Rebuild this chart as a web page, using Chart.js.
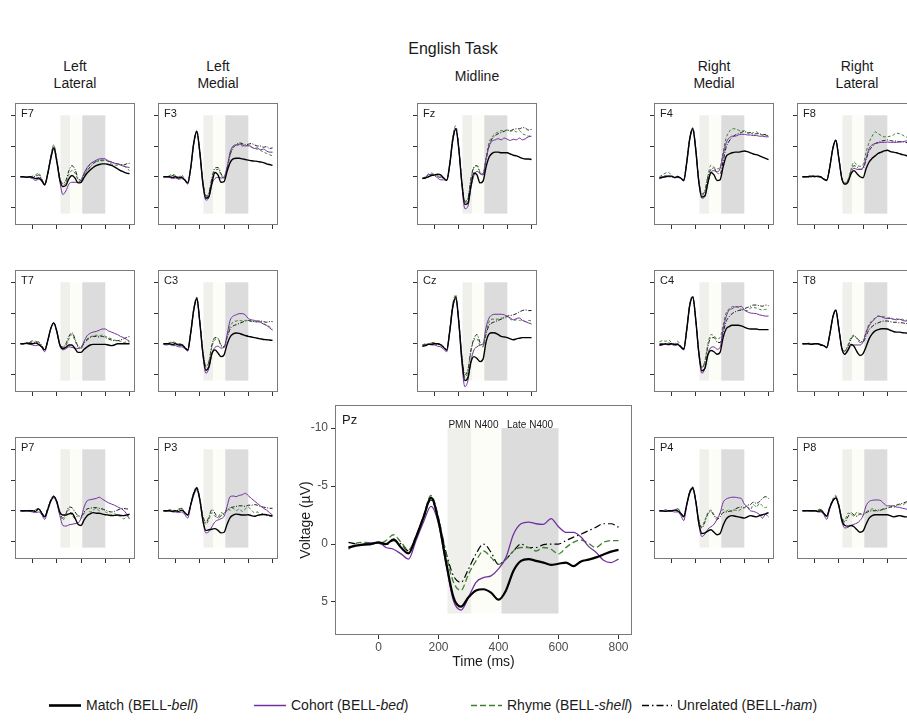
<!DOCTYPE html>
<html>
<head>
<meta charset="utf-8">
<script src="https://cdn.jsdelivr.net/npm/chart.js@4.4.1/dist/chart.umd.min.js"></script>
<style>
  body { margin: 0; width: 907px; height: 721px; overflow: hidden; position: relative; background: #fff;
         font-family: "Liberation Sans", Arial, sans-serif; color: #1a1a1a; }
  canvas { position: absolute; }
  .hd { position: absolute; transform: translateX(-50%); text-align: center; font-size: 14px; line-height: 17px; white-space: nowrap; }
  .lg { position: absolute; top: 696px; height: 18px; font-size: 14px; line-height: 18px; white-space: nowrap; }
  .lg svg { position: absolute; left: 0; top: 0; }
  .lg span { position: absolute; top: 0; }
</style>
</head>
<body>
<div class="hd" style="left:453px; top:39px; font-size:16px; line-height:20px;">English Task</div>
<div class="hd" style="left:75px; top:58px;">Left<br>Lateral</div>
<div class="hd" style="left:218px; top:58px;">Left<br>Medial</div>
<div class="hd" style="left:477px; top:68px;">Midline</div>
<div class="hd" style="left:714px; top:58px;">Right<br>Medial</div>
<div class="hd" style="left:857px; top:58px;">Right<br>Lateral</div>
<div id="legend"></div>

<script>
// time axis (ms) and tick values
const times = [-100, -75, -50, -25, 0, 25, 50, 75, 100, 125, 150, 175, 200, 225, 250, 275, 300,
               325, 350, 375, 400, 425, 450, 475, 500, 525, 550, 575, 600, 625, 650, 675, 700, 725, 750, 775, 800];
const xTickVals = [0, 200, 400, 600, 800];
const yTickVals = [-10, -5, 0, 5];

// analysis windows (ms edges) and their vertical extent (uV)
const windowEdges = [230, 310, 410, 600];
const windowNames = ['PMN', 'N400', 'Late N400'];
const windowSpan = [-10, 6];

const condNames = ['Match', 'Cohort', 'Rhyme', 'Unrelated'];
const primeWords = ['bell', 'bed', 'shell', 'ham'];

// each electrode: [match, cohort, rhyme, unrelated] in uV
const F7 = [
  [0,0,0.1,0,0.1,0.3,0.2,0.6,1.3, -0.5,-3.0,-4.7,-2.5,0.5,1.6,1.4,0.3, -0.2,0.2,1.0,0.9,0.1,-0.6,-1.1,-1.5,-1.8,-2.0,-2.1,-2.1, -2.0,-1.85,-1.6,-1.3,-1.0,-0.8,-0.6,-0.5],
  [0,0,0,0.1,0.3,0.6,0.4,0.7,1.4, -0.4,-2.8,-4.6,-2.4,0.8,2.9,2.3,1.2, 0.9,0.9,0.9,0.5,-0.6,-1.5,-2.1,-2.4,-2.7,-2.9,-2.95,-2.9, -2.6,-2.4,-2.2,-2.1,-1.9,-1.7,-1.6,-1.5],
  [0,0,0,0,-0.1,-0.3,-0.6,0.3,1.2, -0.6,-3.3,-5.2,-2.8,0.3,1.4,1.0,-0.4, -1.0,-0.6,0.5,0.9,-0.3,-1.3,-2.0,-2.4,-2.5,-2.55,-2.6,-2.7, -2.4,-2.1,-1.9,-1.85,-2.0,-1.9,-1.4,-1.0],
  [0,0,0.1,0,0,-0.1,-0.3,0.4,1.2, -0.5,-3.2,-5.0,-2.7,0.2,1.1,0.6,-1.0, -1.8,-1.2,0.2,0.6,-0.4,-1.0,-1.6,-2.1,-2.5,-2.7,-2.7,-2.7, -2.5,-2.4,-2.2,-2.1,-2.0,-1.9,-2.1,-2.2]
];
const F3 = [
  [0,0,0,0.1,0,0.2,0.1,0.5,1.0, -1.5,-5.5,-7.4,-4.0,1.0,3.5,3.2,1.0, -0.7,-0.3,0.9,0.8,-0.9,-2.3,-2.9,-3.0,-3.0,-2.9,-2.8,-2.7, -2.6,-2.55,-2.5,-2.4,-2.3,-2.1,-2.0,-1.85],
  [0,0,0.1,0.3,0.2,0.4,0.3,0.6,1.2, -1.3,-5.3,-7.2,-3.8,1.3,3.8,3.4,1.2, 0.3,0.1,0.2,0.0,-1.5,-4.0,-5.0,-5.2,-5.3,-5.2,-5.0,-5.1, -4.9,-4.6,-4.7,-4.4,-4.5,-4.2,-4.0,-4.0],
  [0,0,-0.2,-0.4,-0.2,0,-0.3,0.4,1.0, -1.6,-5.6,-7.5,-4.0,0.8,3.3,2.8,0.5, -0.9,-1.2,-0.3,0.3,-1.3,-3.5,-4.8,-5.0,-5.2,-5.0,-5.1,-5.0, -4.8,-4.6,-4.5,-4.3,-4.0,-3.8,-3.6,-3.4],
  [0,0,0,-0.2,0,0.1,0,0.5,1.0, -1.4,-5.4,-7.4,-4.0,0.8,3.1,2.6,0.2, -1.4,-1.5,-0.5,0.3,-1.4,-3.6,-4.7,-5.2,-5.5,-5.4,-5.2,-5.3, -5.4,-5.2,-5.0,-5.0,-4.8,-4.9,-4.6,-4.7]
];
const Fz = [
  [0.3,0.2,0,-0.2,-0.3,-0.4,-0.3,0.2,0.6, -2.0,-6.0,-7.8,-4.5,1.0,4.5,4.3,1.5, -0.6,-0.3,1.0,0.7,-1.6,-3.2,-3.8,-4.0,-4.0,-3.9,-3.9,-3.9, -3.7,-3.5,-3.4,-3.2,-3.0,-2.9,-2.9,-2.8],
  [0.3,0.1,-0.3,-0.4,-0.2,0.2,0.5,0.5,0.6, -1.8,-5.8,-7.7,-4.5,1.3,5.2,4.8,1.8, -0.2,-0.9,-0.5,-0.3,-3.0,-5.0,-5.8,-6.0,-6.2,-6.0,-6.3,-6.1, -5.9,-6.1,-6.0,-6.3,-6.0,-6.2,-6.5,-6.6],
  [0.2,0,-0.5,-0.6,-0.4,-0.2,0,0.2,0.5, -2.2,-6.5,-8.3,-4.8,0.8,4.2,3.8,0.5, -1.5,-1.8,-0.8,-0.5,-3.2,-5.6,-6.5,-7.0,-7.3,-7.5,-7.5,-7.6, -7.4,-7.5,-7.3,-7.5,-7.0,-6.8,-6.6,-6.8],
  [0.2,0.1,-0.3,-0.3,-0.2,0,0.1,0.3,0.5, -2.0,-6.2,-8.0,-4.6,0.8,4.0,3.5,0.3, -1.6,-1.8,-0.6,-0.3,-2.8,-5.0,-6.2,-6.7,-7.0,-7.2,-7.4,-7.6, -7.5,-7.7,-7.8,-7.8,-8.0,-7.9,-7.6,-7.7]
];
const F4 = [
  [0.2,0.1,0,-0.1,-0.1,0.1,0,0.2,0.6, -2.3,-6.2,-7.8,-4.3,0.9,3.3,3.1,0.9, -0.7,-0.3,0.6,0.5,-1.6,-3.3,-3.7,-3.9,-4.0,-4.0,-4.1,-4.2, -4.1,-3.9,-3.7,-3.6,-3.4,-3.2,-3.0,-2.8],
  [0.3,0.1,-0.2,0,0,0.2,0.1,0.3,0.7, -2.2,-6.0,-7.6,-4.2,1.0,3.5,3.2,1.0, -0.7,-1.0,-0.8,-1.3,-3.5,-5.5,-6.3,-6.6,-6.6,-6.8,-6.9,-6.9, -6.8,-6.8,-6.7,-6.7,-6.6,-6.6,-6.5,-6.5],
  [0,-0.3,-0.6,-0.7,-0.2,0.1,-0.1,0.2,0.5, -2.6,-6.4,-8.0,-4.5,0.7,3.0,2.4,-0.2, -1.9,-1.5,-1.3,-1.5,-4.0,-6.3,-7.3,-7.8,-7.8,-7.6,-7.4,-7.5, -7.2,-7.0,-7.2,-7.3,-7.0,-6.8,-6.7,-6.7],
  [0.2,0,0,-0.1,0,0.1,0.1,0.2,0.5, -2.4,-6.2,-7.9,-4.5,0.6,2.8,2.3,0, -1.2,-1.4,-0.6,-0.5,-2.5,-4.8,-5.8,-6.4,-6.8,-7.0,-7.2,-7.4, -7.1,-7.2,-6.9,-7.0,-7.0,-6.8,-6.9,-6.6]
];
const F8 = [
  [0,0,0,-0.1,0,-0.1,0,0.4,0.6, -1.5,-4.5,-5.9,-3.0,0.3,1.2,0.9,-0.4, -1.0,-0.5,0,0.15,-1.3,-2.4,-3.0,-3.4,-3.8,-4.0,-4.2,-4.3, -4.1,-4.0,-3.9,-3.75,-3.6,-3.5,-3.3,-3.2],
  [0,0,0,0,-0.1,0,0,0.4,0.6, -1.5,-4.6,-6.0,-3.0,0.3,1.2,0.8,-0.6, -1.4,-1.2,-1.2,-1.5,-3.0,-4.6,-5.2,-5.4,-5.5,-5.6,-5.6,-5.65, -5.6,-5.6,-5.6,-5.65,-5.7,-5.8,-5.9,-6.0],
  [0,0,-0.1,-0.2,-0.1,0,0.1,0.3,0.5, -1.6,-4.7,-6.0,-3.1,0.2,1.0,0.5,-1.2, -2.4,-1.9,-1.7,-2.0,-4.0,-5.6,-6.6,-7.3,-7.0,-6.7,-6.5,-6.5, -6.6,-6.8,-7.1,-7.0,-6.8,-6.5,-6.4,-6.3],
  [0,0,0,0,-0.1,0,0,0.3,0.5, -1.5,-4.6,-5.9,-3.0,0.2,1.0,0.6,-0.9, -1.8,-1.6,-1.2,-1.3,-2.8,-4.2,-4.9,-5.4,-5.6,-5.8,-5.9,-6.0, -5.9,-5.8,-5.8,-5.7,-5.7,-5.6,-5.5,-5.5]
];
const T7 = [
  [0,0,-0.1,0,0,-0.1,0.1,0.5,1.0, -0.5,-2.5,-3.4,-2.0,0.2,0.8,0.6,0.2, 0.2,0.8,1.4,1.4,0.9,0.5,0.2,0.1,0.1,0.1,0.1,0.1, 0.2,0.3,0.2,0,0,0,0,0],
  [0,0,0,0.1,0.2,0.3,0.2,0.6,1.3, -0.4,-2.4,-3.3,-1.9,0.3,1.0,0.8,0.5, 0.6,0.7,0.8,0.6,-0.4,-1.3,-1.7,-1.9,-2.0,-2.2,-2.4,-2.4, -2.1,-1.9,-1.7,-1.5,-1.2,-1.0,-0.7,-0.4],
  [0,0,-0.1,-0.3,-0.5,-0.4,-0.2,0.3,1.0, -0.5,-2.5,-3.5,-2.1,0.1,0.6,0.3,-0.8, -1.5,-0.5,0.6,0.8,-0.2,-0.8,-1.1,-1.3,-1.4,-1.3,-1.4,-1.2, -1.0,-0.8,-0.6,-0.5,-0.4,-0.2,-0.3,-0.3],
  [0,0,-0.1,-0.2,-0.3,-0.2,-0.3,0.3,1.0, -0.4,-2.4,-3.4,-2.0,0.1,0.5,0,-1.2, -1.8,-0.8,0.4,0.6,-0.1,-0.6,-1.0,-1.2,-1.2,-1.1,-1.2,-1.0, -0.8,-0.6,-0.5,-0.5,-0.6,-0.8,-1.0,-1.2]
];
const C3 = [
  [0,0,0,0.1,0,0.2,0.2,0.6,1.0, -1.8,-5.5,-7.4,-3.5,1.5,4.3,3.7,1.6, 1.0,1.5,2.1,1.8,0.1,-1.1,-1.6,-1.75,-1.7,-1.5,-1.35,-1.2, -1.1,-1.0,-0.9,-0.8,-0.7,-0.65,-0.6,-0.55],
  [0.1,0.2,0.1,0.3,0.3,0.5,0.5,0.8,1.2, -1.6,-5.4,-7.2,-3.4,1.8,4.8,4.0,1.6, 0.6,0.4,0.7,0.6,-1.5,-3.8,-4.5,-4.7,-4.9,-4.9,-4.7,-4.1, -3.9,-3.8,-3.6,-3.5,-3.2,-3.0,-2.6,-2.2],
  [0,0,-0.2,-0.3,-0.2,0,0,0.5,1.0, -1.9,-5.8,-7.6,-3.8,1.2,3.8,3.0,0.5, -0.7,-0.8,0.2,0.6,-1.2,-2.9,-3.5,-3.7,-3.8,-3.7,-3.8,-3.7, -3.6,-3.6,-3.5,-3.6,-3.3,-3.0,-2.8,-2.4],
  [0,0,-0.1,-0.2,0,0.1,0.1,0.5,1.0, -1.8,-5.6,-7.4,-3.6,1.2,3.6,2.9,0.2, -1.0,-0.9,0.3,0.5,-1.0,-2.4,-2.9,-3.1,-3.3,-3.5,-3.7,-3.8, -3.7,-3.6,-3.7,-3.7,-3.6,-3.5,-3.6,-3.6]
];
const Cz = [
  [0.4,0.3,0.1,0.1,0,0,0.2,0.6,1.0, -2.0,-6.0,-7.5,-3.5,2.5,6.0,5.5,3.0, 2.1,2.4,2.9,2.5,-0.3,-1.6,-1.8,-1.75,-1.5,-1.2,-1.1,-1.0, -0.8,-0.65,-0.8,-0.9,-1.0,-1.0,-1.0,-1.0],
  [0.4,0.2,0.1,0.2,0.2,0.4,0.5,0.9,1.3, -1.8,-5.8,-7.3,-3.3,3.2,7.0,6.0,2.8, 1.0,0.5,0.2,0,-2.7,-4.2,-4.7,-4.8,-4.8,-4.8,-4.7,-4.45, -4.2,-3.9,-4.1,-4.2,-3.8,-3.6,-3.4,-3.2],
  [0.2,0,0,-0.2,-0.2,0,0,0.5,1.0, -2.3,-6.5,-8.0,-3.8,2.0,5.5,4.5,1.3, -0.6,-0.8,0.3,0.5,-2.0,-3.6,-4.0,-4.0,-4.0,-4.2,-4.1,-4.4, -4.0,-3.8,-3.9,-3.8,-3.9,-3.6,-3.8,-3.7],
  [0.2,0.1,0,-0.1,0,0.1,0.1,0.5,1.0, -2.1,-6.2,-7.7,-3.6,2.0,5.0,4.2,1.0, -0.8,-1.5,-0.2,0.3,-1.6,-3.0,-3.4,-3.6,-3.8,-4.0,-4.3,-4.5, -4.6,-4.7,-4.9,-5.2,-5.4,-5.5,-5.4,-5.4]
];
const C4 = [
  [0.2,0.1,0,0.1,0,0.1,0.1,0.5,0.9, -2.3,-6.3,-7.6,-3.8,1.5,4.4,4.0,1.8, 1.1,1.3,1.7,1.4,-1.0,-2.4,-2.8,-3.0,-3.0,-3.0,-2.9,-2.7, -2.5,-2.4,-2.4,-2.4,-2.3,-2.3,-2.3,-2.3],
  [0.3,0.2,0.1,0.2,0.1,0.3,0.2,0.6,1.0, -2.1,-6.2,-7.5,-3.7,1.8,4.8,4.0,1.6, 0.6,0.5,0.9,0.6,-2.4,-4.4,-5.5,-5.7,-6.0,-6.0,-6.1,-5.5, -5.2,-5.0,-4.95,-4.9,-4.7,-4.6,-4.5,-4.5],
  [-0.3,-0.5,-0.4,-0.6,-0.2,0,-0.4,0.3,0.8, -2.4,-6.5,-7.8,-4.0,1.2,3.8,2.8,0, -1.5,-1.3,-0.8,-1.0,-3.0,-5.0,-5.7,-6.0,-6.1,-5.9,-5.6,-5.4, -5.4,-5.8,-5.9,-5.8,-5.6,-5.5,-5.6,-5.5],
  [0,0,0,-0.1,0,0.1,0,0.4,0.8, -2.2,-6.3,-7.6,-3.8,1.3,3.9,3.0,0.4, -1.0,-1.0,-0.3,-0.2,-1.8,-3.6,-4.4,-4.9,-5.2,-5.4,-5.5,-5.7, -5.9,-6.1,-6.3,-6.3,-6.2,-6.1,-6.3,-6.2]
];
const T8 = [
  [0,0,0,0.1,0,0,0.2,0.3,0.6, -1.5,-4.3,-5.45,-2.5,0.8,1.7,1.0,0.1, 0.4,1.3,1.9,1.6,0.5,-0.8,-1.6,-2.1,-2.3,-2.45,-2.45,-2.4, -2.2,-2.0,-1.9,-1.9,-1.8,-1.75,-1.7,-1.65],
  [0,0,0,0.1,0,0,0.2,0.3,0.7, -1.4,-4.2,-5.5,-2.5,0.8,1.7,1.2,0.3, 0.2,0.2,0.2,-0.3,-1.8,-2.9,-3.6,-4.1,-4.5,-4.4,-4.2,-4.1, -4.1,-4.0,-3.9,-4.0,-3.8,-3.7,-3.7,-3.6],
  [0,0,-0.1,0,0,0,0.1,0.3,0.6, -1.5,-4.4,-5.6,-2.6,0.6,1.2,0.2,-1.0, -1.4,-0.8,-0.2,-0.4,-2.0,-3.2,-3.8,-4.2,-4.5,-4.4,-4.4,-4.2, -4.3,-4.0,-4.1,-3.9,-4.0,-3.8,-3.9,-3.8],
  [0,0,0,0,0,0,0.1,0.3,0.6, -1.4,-4.2,-5.4,-2.5,0.6,1.2,0.4,-0.7, -1.3,-0.9,-0.4,-0.3,-1.3,-2.3,-2.8,-3.2,-3.4,-3.6,-3.7,-3.7, -3.6,-3.5,-3.5,-3.4,-3.4,-3.3,-3.3,-3.3]
];
const P7 = [
  [0,0,0,0,0,0.1,-0.3,0.4,1.0, -0.2,-1.6,-2.3,-1.5,0.2,0.7,0.7,0.5, 0.4,1.2,2.2,2.4,1.5,0.8,0.5,0.3,0.4,0.4,0.55,0.65, 0.7,0.8,0.75,0.7,0.75,0.8,0.7,0.55],
  [0,0.1,0,0.1,0.2,0.3,0.2,0.6,1.4, 0,-1.5,-2.1,-1.2,0.8,2.4,2.5,2.3, 2.2,2.1,2.0,1.2,-0.6,-1.6,-1.8,-1.9,-2.0,-2.2,-1.9,-1.6, -1.3,-1.1,-0.9,-0.65,-0.4,-0.1,0.5,1.35],
  [0,0,0,-0.1,0,-0.2,-0.4,0.3,1.0, -0.4,-1.8,-2.5,-1.4,0.6,1.5,0.8,-0.2, 0.8,1.2,0.8,1.2,0.5,-0.3,0.2,-0.1,-0.4,0,-0.3,0.2, 0.4,0.6,0.4,0.8,0.9,1.3,1.0,0.6],
  [0,0,0,0,0,-0.1,-0.3,0.3,0.9, -0.3,-1.7,-2.4,-1.4,0.4,1.2,0.5,-0.6, -0.5,0.2,0.8,0.9,0.2,-0.3,-0.4,-0.5,-0.5,-0.4,-0.3,-0.1, 0.1,0.2,0.1,-0.1,-0.3,-0.4,-0.3,-0.3]
];
const P3 = [
  [0,0,0,0.1,0,0.1,-0.1,0.3,0.7, -1.0,-2.8,-3.65,-1.8,1.5,3.2,3.1,3.0, 2.9,3.2,3.6,3.5,2.2,1.1,0.7,0.55,0.6,0.7,0.7,0.65, 0.8,0.9,0.75,0.65,0.6,0.65,0.75,0.85],
  [0,0.1,0,0.2,0.2,0.3,0.2,0.6,1.2, -0.8,-2.5,-3.4,-1.7,1.7,3.6,3.4,2.6, 1.8,1.5,1.3,0.9,-0.7,-2.3,-2.4,-2.3,-2.5,-2.6,-2.85,-2.45, -2.0,-1.6,-1.2,-0.8,-0.4,-0.1,0.3,0.7],
  [0,0,-0.2,-0.1,0,-0.3,-0.4,0.3,0.8, -1.1,-3.0,-3.9,-2.0,1.0,2.2,1.4,0.3, 0.9,1.0,0.3,0.5,-0.3,-0.1,-0.4,0,-0.3,0.1,-0.3,-0.6, -0.1,0.3,0.2,0.6,0.4,0.8,0.9,0.9],
  [0,0,0,0,0,-0.1,-0.4,0.3,0.7, -1.0,-2.9,-3.8,-1.9,0.8,1.9,1.0,-0.2, 0.4,1.2,0.8,0.5,-0.1,-0.5,-0.6,-0.7,-0.8,-0.8,-0.7,-0.9, -0.9,-1.0,-0.9,-0.7,-0.6,-0.5,-0.4,-0.4]
];
const Pz = [
  [0.3,0.15,0.05,0,-0.15,0,-0.4,0.3,0.8, -0.6,-2.3,-4.0,-2.0,1.5,4.6,5.4,4.6, 4.0,3.9,4.2,4.8,4.0,2.3,1.45,1.3,1.45,1.6,1.8,1.7, 1.6,1.9,1.5,1.35,1.15,0.9,0.65,0.5],
  [0.3,0.1,0,-0.1,-0.15,0.3,0.45,0.85,1.3, -0.3,-1.9,-3.25,-1.75,1.75,4.9,5.7,4.6, 3.3,2.9,2.75,2.15,1.15,-0.85,-1.75,-1.9,-1.75,-1.7,-2.2,-1.5, -1.0,-1.0,-0.6,0.2,0.7,1.4,1.6,1.3],
  [0.45,-0.05,-0.15,-0.1,-0.05,-0.3,-0.8,-0.15,0.5, -0.7,-2.45,-4.2,-2.3,0.85,3.3,4.0,2.6, 1.45,0.6,1.15,1.75,1.3,0.6,0.3,0.3,0.6,0.3,0.45,0.85, 0.3,-0.15,-0.35,-0.05,0.3,-0.15,-0.3,-0.3],
  [-0.15,0,0.05,0,-0.05,0.05,-0.3,0,0.6, -0.65,-2.3,-3.8,-2.15,0.7,2.75,3.3,2.15, 0.85,0,0.7,1.75,1.3,0.6,0,0.3,0.3,0.05,0,0, -0.3,-0.6,-0.85,-1.15,-1.45,-1.75,-1.75,-1.45]
];
const P4 = [
  [0,0,0.1,0,0,-0.1,0,0.4,1.0, -1.0,-3.0,-3.7,-1.5,2.0,3.7,3.6,3.3, 3.1,3.5,3.9,3.7,2.4,1.35,0.9,0.8,0.9,1.0,1.1,1.2, 1.0,0.8,0.9,1.0,0.8,0.65,0.5,0.3],
  [0,0.1,0,0.1,0.1,0.2,0.2,0.7,1.6, -0.8,-2.8,-3.5,-1.3,2.3,4.2,3.8,3.0, 2.6,2.2,1.4,0.4,-1.35,-1.9,-2.1,-2.2,-2.2,-2.1,-2.0,-1.1, -0.6,0,0.1,0.3,0.6,1.2,0.6,1.0],
  [0,0,-0.2,0,0,0,-0.4,0.3,0.9, -1.1,-3.2,-3.9,-1.7,1.5,2.6,1.5,0.3, -0.1,0.6,1.1,0.4,-0.2,0.1,-0.2,0.2,-0.1,0,-0.3,-0.5, -0.7,-0.2,-1.0,-0.6,-1.2,-0.8,-0.5,-0.8],
  [0,0,0,0,0,-0.1,-0.3,0.3,0.8, -1.0,-3.1,-3.8,-1.6,1.5,2.8,1.8,0.5, 0.1,0.8,1.4,1.0,0.3,0.2,0.1,0,-0.3,-0.5,-0.6,-0.5, -0.9,-1.0,-1.4,-1.2,-1.5,-2.0,-2.3,-2.0]
];
const P8 = [
  [0,0,0,0,0,0.1,0,0.4,0.9, -0.5,-1.6,-2.1,-0.8,1.5,2.4,2.5,2.4, 2.6,3.1,3.5,3.3,2.2,1.2,0.8,0.65,0.65,0.65,0.65,0.65, 0.8,1.0,0.9,0.8,0.9,1.0,1.0,1.0],
  [0,0,0,0.1,0,0.2,0.2,0.6,1.4, -0.3,-1.5,-2.0,-0.7,1.8,2.8,2.7,2.4, 2.2,2.0,1.6,0.8,-0.8,-1.5,-1.7,-1.75,-1.75,-1.6,-1.1,-0.8, -0.8,-0.8,-0.6,-0.55,-0.4,-0.3,-0.2,0],
  [0,0,0,0,0,-0.1,-0.3,0.3,0.9, -0.6,-1.9,-2.5,-1.0,1.2,1.5,0.4,0.5, 0.9,0.2,0.6,0.7,0.2,-0.1,-0.3,-0.2,0.1,-0.1,-0.2,-0.5, -0.6,-0.5,-0.8,-1.0,-0.9,-1.2,-1.1,-1.2],
  [0,0,0,0,0,0,-0.2,0.3,0.8, -0.5,-1.7,-2.3,-0.9,1.2,1.8,1.0,0.3, 0.7,0.9,0.5,0.6,0.3,0.1,0,0,-0.1,-0.2,-0.3,-0.4, -0.6,-0.8,-0.9,-1.1,-1.2,-1.4,-1.5,-1.6]
];

// styling
const FONT = '"Liberation Sans", Arial, sans-serif';
const lineColors = ['#000000', '#7030a0', '#3f7f2f', '#000000'];
const bigWidths = [2.2, 1.3, 1.3, 1.2];
const smallWidths = [1.4, 1.0, 1.0, 0.9];
const bigDashes = [[], [], [6, 3], [7, 3, 1.5, 3]];
const smallDashes = [[], [], [3, 2], [4, 1.5, 1, 1.5]];
const windowColors = ['#efefec', '#fdfdf8', '#dcdcdc'];

// shading, frame and labels
const panelDeco = {
  id: 'panelDeco',
  beforeDatasetsDraw(chart, args, opts) {
    const {ctx, scales: {x, y}} = chart;
    ctx.save();
    const y0 = y.getPixelForValue(windowSpan[0]), y1 = y.getPixelForValue(windowSpan[1]);
    for (let i = 0; i < windowNames.length; i++) {
      const x0 = x.getPixelForValue(windowEdges[i]), x1 = x.getPixelForValue(windowEdges[i + 1]);
      ctx.fillStyle = windowColors[i];
      ctx.fillRect(x0, y0, x1 - x0, y1 - y0);
    }
    ctx.restore();
  },
  afterDatasetsDraw(chart, args, opts) {
    const {ctx, chartArea: a, scales: {x, y}} = chart;
    ctx.save();
    ctx.strokeStyle = '#7a7a7a';
    ctx.lineWidth = 1;
    ctx.strokeRect(a.left + 0.5, a.top + 0.5, a.width - 1, a.height - 1);
    ctx.fillStyle = '#1a1a1a';
    ctx.textBaseline = 'top';
    ctx.font = (opts.big ? 13 : 11) + 'px ' + FONT;
    ctx.fillText(opts.label, a.left + (opts.big ? 7 : 6), a.top + (opts.big ? 9 : 5));
    if (opts.big) {
      ctx.font = '10px ' + FONT;
      ctx.textAlign = 'center';
      ctx.textBaseline = 'alphabetic';
      const yt = y.getPixelForValue(windowSpan[0]);
      for (let i = 0; i < windowNames.length; i++) {
        const xc = x.getPixelForValue((windowEdges[i] + windowEdges[i + 1]) / 2);
        ctx.fillText(windowNames[i], xc, yt);
      }
    }
    ctx.restore();
  }
};

function drawPanel(name, series, left, top, w, h, big) {
  const padL = big ? 37 : 6, padB = big ? 36 : 6, padT = 2, padR = 2;
  const cv = document.createElement('canvas');
  cv.width = w + padL + padR;
  cv.height = h + padT + padB;
  cv.style.left = (left - padL) + 'px';
  cv.style.top = (top - padT) + 'px';
  document.body.appendChild(cv);

  new Chart(cv, {
    type: 'line',
    data: {
      datasets: condNames.map((c, k) => ({
        label: c,
        data: times.map((t, i) => ({x: t, y: series[k][i]})),
        borderColor: lineColors[k],
        borderWidth: (big ? bigWidths : smallWidths)[k],
        borderDash: (big ? bigDashes : smallDashes)[k],
        pointRadius: 0,
        cubicInterpolationMode: 'monotone',
        fill: false
      }))
    },
    options: {
      responsive: false,
      animation: false,
      events: [],
      layout: {padding: {top: padT, right: padR, left: 0, bottom: 0}},
      plugins: {
        legend: {display: false},
        tooltip: {enabled: false},
        panelDeco: {label: name, big: big}
      },
      scales: {
        x: {
          type: 'linear', min: -145, max: 845,
          afterBuildTicks: s => { s.ticks = xTickVals.map(v => ({value: v})); },
          afterFit: s => { s.height = padB; s.paddingLeft = 0; s.paddingRight = 0; },
          grid: {drawOnChartArea: false, drawTicks: true, tickLength: 4, color: '#333333'},
          border: {display: false},
          ticks: {display: big, color: '#4d4d4d', font: {size: 12, family: FONT}, padding: 1, maxRotation: 0},
          title: {display: big, text: 'Time (ms)', color: '#1a1a1a', font: {size: 14, family: FONT}, padding: 0}
        },
        y: {
          type: 'linear', min: -12, max: 7.85, reverse: true,
          afterBuildTicks: s => { s.ticks = yTickVals.map(v => ({value: v})); },
          afterFit: s => { s.width = padL; s.paddingTop = 0; s.paddingBottom = 0; },
          grid: {drawOnChartArea: false, drawTicks: true, tickLength: 4, color: '#333333'},
          border: {display: false},
          ticks: {display: big, color: '#4d4d4d', font: {size: 12, family: FONT}, padding: 3},
          title: {display: big, text: 'Voltage (\u00b5V)', color: '#1a1a1a', font: {size: 14, family: FONT}, padding: 0}
        }
      }
    },
    plugins: [panelDeco]
  });
}

// grid of small panels
const colLeft = [15, 158, 417, 654, 797];
const rowTop = [103, 270, 437];
const smallPanels = [
  ['F7', F7, 0, 0], ['F3', F3, 1, 0], ['Fz', Fz, 2, 0], ['F4', F4, 3, 0], ['F8', F8, 4, 0],
  ['T7', T7, 0, 1], ['C3', C3, 1, 1], ['Cz', Cz, 2, 1], ['C4', C4, 3, 1], ['T8', T8, 4, 1],
  ['P7', P7, 0, 2], ['P3', P3, 1, 2], ['P4', P4, 3, 2], ['P8', P8, 4, 2]
];
smallPanels.forEach(([n, s, c, r]) => drawPanel(n, s, colLeft[c], rowTop[r], 120, 122, false));
drawPanel('Pz', Pz, 335, 405, 297, 230, true);

// legend
const legendLeft = [49, 254, 471, 642];
const legendLineW = [32, 32, 31, 30];
const lg = document.getElementById('legend');
condNames.forEach((c, k) => {
  const d = document.createElement('div');
  d.className = 'lg';
  d.style.left = legendLeft[k] + 'px';
  const wd = legendLineW[k];
  const dash = bigDashes[k].length ? ` stroke-dasharray="${bigDashes[k].join(' ')}"` : '';
  d.innerHTML = `<svg width="${wd}" height="18"><line x1="0" y1="9.5" x2="${wd}" y2="9.5" stroke="${lineColors[k]}" stroke-width="${k === 0 ? 2.6 : 1.5}"${dash}/></svg>` +
    `<span style="left:${wd + 5}px">${c} (BELL-<i>${primeWords[k]}</i>)</span>`;
  lg.appendChild(d);
});
</script>
</body>
</html>
